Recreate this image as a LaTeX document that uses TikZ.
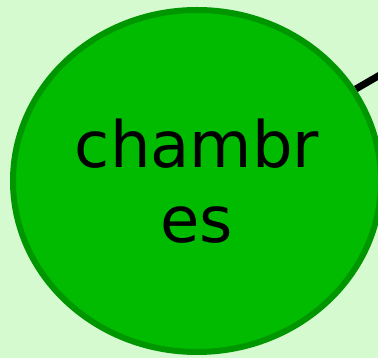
\documentclass[tikz,border=0pt]{standalone}
\usepackage{fontspec}
\setmainfont{DejaVu Sans}
\usetikzlibrary{shapes.geometric}
\pgfdeclarelayer{back}
\pgfdeclarelayer{edges}
\pgfsetlayers{back,edges,main}
\definecolor{bgc}{RGB}{213,250,208}
\definecolor{fillc}{RGB}{0,187,0}
\definecolor{borderc}{RGB}{0,150,0}
\tikzset{
  topic/.style={ellipse, draw=borderc, fill=fillc, line width=6pt,
    minimum width=368pt, minimum height=342pt, inner sep=0pt,
    align=center, font=\fontsize{64}{75}\selectfont, text=black},
  link/.style={draw=black, line width=7pt}
}
\begin{document}
\begin{tikzpicture}[x=1pt,y=1pt]
  \begin{pgfonlayer}{back}
    \fill[bgc] (0,0) rectangle (378,358);
  \end{pgfonlayer}
  \useasboundingbox (0,0) rectangle (378,358);
  \clip (0,0) rectangle (378,358);
  \node[topic] (ch) at (197,177) {chambr\\es};
  \coordinate (far) at (468,334);
  \begin{pgfonlayer}{edges}
    \draw[link] (ch) -- (far);
  \end{pgfonlayer}
\end{tikzpicture}
\end{document}
